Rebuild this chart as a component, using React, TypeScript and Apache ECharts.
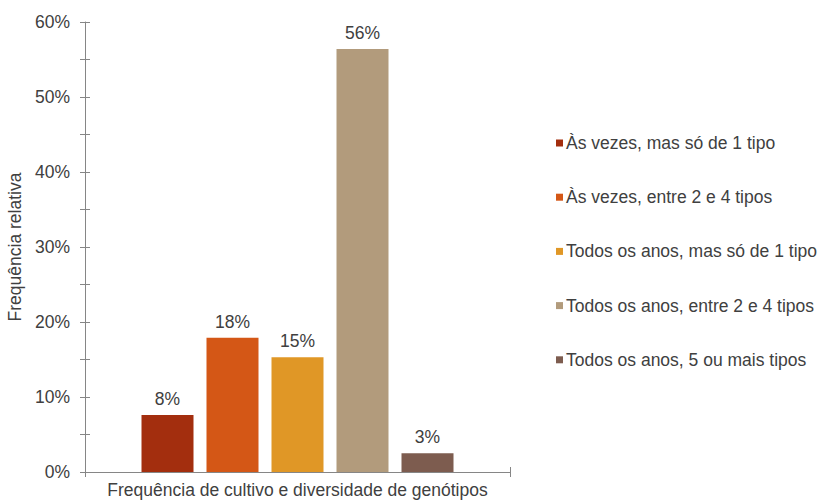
import React, { useEffect, useRef } from "react";
import * as echarts from "echarts";

const seriesNames = [
  "Às vezes, mas só de 1 tipo",
  "Às vezes, entre 2 e 4 tipos",
  "Todos os anos, mas só de 1 tipo",
  "Todos os anos, entre 2 e 4 tipos",
  "Todos os anos, 5 ou mais tipos",
];
const values = [7.6, 17.9, 15.3, 56.4, 2.5];
const valueLabels = ["8%", "18%", "15%", "56%", "3%"];
const colors = ["#A32E0E", "#D45716", "#E09726", "#B29B7C", "#7D5C4F"];
const category = ["Frequência de cultivo e diversidade de genótipos"];
const yAxisName = "Frequência relativa";

const FONT = "Liberation Sans, Arial, sans-serif";
const FS = 17.5;
const TEXT = "#404040";
const AXIS = "#868686";

export default function App() {
  const ref = useRef<HTMLDivElement>(null);
  useEffect(() => {
    if (!ref.current) return;
    const chart = echarts.init(ref.current, null, { renderer: "svg" });
    const tickCommon = { lineStyle: { color: AXIS, width: 1 }, length: 5 };
    chart.setOption({
      animation: false,
      backgroundColor: "#fff",
      textStyle: { fontFamily: FONT },
      grid: { left: 85, right: 316, top: 22, bottom: 29, containLabel: false, outerBoundsMode: "none" },
      legend: {
        orient: "vertical",
        left: 551,
        top: 129,
        icon: "rect",
        itemWidth: 7,
        itemHeight: 7,
        itemGap: 36.2,
        selectedMode: false,
        textStyle: { color: TEXT, fontSize: FS, fontFamily: FONT, lineHeight: 18, padding: [0, 0, 0, -2] },
        data: seriesNames,
      },
      xAxis: [
        {
          type: "category",
          data: category,
          name: category[0],
          nameLocation: "middle",
          nameGap: 9,
          nameTextStyle: { color: TEXT, fontSize: FS, fontFamily: FONT },
          axisLine: { lineStyle: { color: AXIS, width: 1 } },
          axisTick: { show: true, ...tickCommon },
          axisLabel: { show: false },
        },
        {
          type: "category",
          data: category,
          position: "bottom",
          axisLine: { show: false },
          axisTick: { show: true, inside: true, ...tickCommon },
          axisLabel: { show: false },
        },
      ],
      yAxis: [
        {
          type: "value",
          min: 0,
          max: 60,
          interval: 10,
          name: yAxisName,
          nameLocation: "middle",
          nameGap: 60,
          nameTextStyle: { color: TEXT, fontSize: FS, fontFamily: FONT },
          axisLine: { show: true, lineStyle: { color: AXIS, width: 1 } },
          axisTick: { show: true, ...tickCommon },
          minorTick: { show: true, splitNumber: 2, length: 5, lineStyle: { color: AXIS, width: 1 } },
          splitLine: { show: false },
          axisLabel: { color: TEXT, fontSize: FS, fontFamily: FONT, margin: 15, formatter: "{value}%" },
        },
        {
          type: "value",
          min: 0,
          max: 60,
          interval: 10,
          position: "left",
          axisLine: { show: false },
          axisTick: { show: true, inside: true, ...tickCommon },
          minorTick: { show: true, splitNumber: 2, length: 5, lineStyle: { color: AXIS, width: 1 } },
          splitLine: { show: false },
          axisLabel: { show: false },
        },
      ],
      series: seriesNames.map((name, i) => ({
        type: "bar",
        name,
        data: [values[i]],
        barWidth: 52,
        barGap: "25%",
        itemStyle: { color: colors[i] },
        label: {
          show: true,
          position: "top",
          distance: 7,
          color: TEXT,
          fontSize: FS,
          fontFamily: FONT,
          formatter: () => valueLabels[i],
        },
      })),
    });
    return () => chart.dispose();
  }, []);
  return <div ref={ref} style={{ position: "fixed", left: 0, top: 0, width: 826, height: 501 }} />;
}
